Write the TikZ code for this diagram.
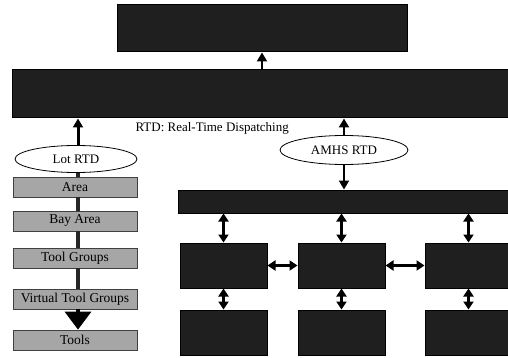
\documentclass[tikz,border=0pt]{standalone}
\usepackage{fontspec}
\setmainfont{Liberation Serif}
\usetikzlibrary{arrows.meta,shapes.geometric}
\begin{document}
\begin{tikzpicture}[x=1pt,y=-1pt,
  darkbox/.style={draw=black,line width=1pt,fill=black!88,inner sep=0pt},
  graybox/.style={draw=black!75,line width=0.8pt,fill=black!35,inner sep=0pt,
    minimum width=124pt,minimum height=20pt,font=\fontsize{13.5}{15}\selectfont},
  oval/.style={draw=black,line width=0.8pt,fill=white,ellipse,inner sep=0pt,
    font=\fontsize{13}{15}\selectfont},
  uparrow/.style={line width=2.2pt,-{Triangle[width=10pt,length=9pt]}},
  dblarrow/.style={line width=2.2pt,{Triangle[width=10pt,length=8pt]}-{Triangle[width=10pt,length=8pt]}},
  chain/.style={line width=3.5pt,draw=black!85}
]
\useasboundingbox (0,0) rectangle (508,358);
% top boxes
\node[darkbox,minimum width=290pt,minimum height=47pt] (top) at (262,28.5) {};
\node[darkbox,minimum width=498pt,minimum height=48pt] (rtd) at (261,94) {};
\node[anchor=west,font=\fontsize{13}{15}\selectfont] (legend) at (132,128) {RTD: Real-Time Dispatching};
% ellipses
\node[oval,minimum width=122pt,minimum height=27pt] (lot) at (76,159) {Lot RTD};
\node[oval,minimum width=128pt,minimum height=29pt] (amhs) at (344,150) {AMHS RTD};
% left column
\node[graybox] (area) at (75,187) {Area};
\node[graybox] (bay) at (75,221) {Bay Area};
\node[graybox] (tg) at (75,258) {Tool Groups};
\node[graybox] (vtg) at (75,299) {Virtual Tool Groups};
\node[graybox] (tools) at (75,340) {Tools};
% right structure
\node[darkbox,minimum width=332pt,minimum height=23pt] (wide) at (344,201.5) {};
\node[darkbox,minimum width=87pt,minimum height=45pt] (m1) at (223.5,265.5) {};
\node[darkbox,minimum width=87pt,minimum height=45pt] (m2) at (341.5,265.5) {};
\node[darkbox,minimum width=87pt,minimum height=45pt] (m3) at (468.5,265.5) {};
\node[darkbox,minimum width=87pt,minimum height=45pt] (b1) at (223.5,332.5) {};
\node[darkbox,minimum width=87pt,minimum height=45pt] (b2) at (341.5,332.5) {};
\node[darkbox,minimum width=87pt,minimum height=45pt] (b3) at (468.5,332.5) {};
% arrows
\draw[uparrow] (rtd.north -| top.south) -- (top.south);
\draw[uparrow,line width=3pt] (lot.north -| 78,0) -- (78,0 |- rtd.south);
\draw[uparrow] (amhs.north) -- (amhs.north |- rtd.south);
\draw[uparrow] (amhs.south) -- (amhs.south |- wide.north);
% left chain
\draw[chain] (78,0 |- lot.south) -- (78,0 |- area.north);
\draw[chain] (78,0 |- area.south) -- (78,0 |- bay.north);
\draw[chain] (78,0 |- bay.south) -- (78,0 |- tg.north);
\draw[chain] (78,0 |- tg.south) -- (78,0 |- vtg.north);
\draw[line width=3.5pt,-{Triangle[width=26pt,length=18pt]}] (78,0 |- vtg.south) -- (78,0 |- tools.north);
% double arrows
\draw[dblarrow] (m1.north) -- (m1.north |- wide.south);
\draw[dblarrow] (m2.north) -- (m2.north |- wide.south);
\draw[dblarrow] (m3.north) -- (m3.north |- wide.south);
\draw[dblarrow] (m1.south) -- (b1.north);
\draw[dblarrow] (m2.south) -- (b2.north);
\draw[dblarrow] (m3.south) -- (b3.north);
\draw[dblarrow] (m1.east) -- (m2.west);
\draw[dblarrow] (m2.east) -- (m3.west);
\end{tikzpicture}
\end{document}
